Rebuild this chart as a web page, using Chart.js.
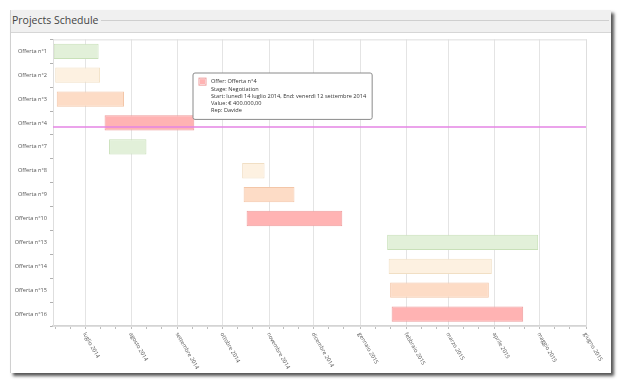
<!DOCTYPE html>
<html>
<head>
<meta charset="utf-8">
<script src="https://cdn.jsdelivr.net/npm/chart.js@4.4.1/dist/chart.umd.min.js"></script>
<style>
  body { margin: 0; background: #fff; font-family: "Open Sans", sans-serif; }
  #frame {
    position: absolute; left: 10px; top: 10px; width: 600px; height: 363px;
    background: #fff; border-left: 1px solid #d0d0d0;
    box-shadow: 3px 3px 3px #555;
  }
  #head {
    position: absolute; left: 0; top: 0; width: 600px; height: 22px;
    background: #f0f0f0; border-bottom: 1px solid #d6d6d6;
  }
  #head span {
    position: absolute; left: 1px; top: 3px; font-size: 10.5px; color: #444;
    background: #f0f0f0; padding-right: 2px;
  }
  #head i {
    position: absolute; left: 2px; right: 2px; top: 10px; border-top: 1px solid #cfcfcf;
  }
  #wrap { position: absolute; left: 0; top: 23px; width: 598px; height: 340px; }
</style>
</head>
<body>
<div id="frame">
  <div id="head"><i></i><span>Projects Schedule</span></div>
  <div id="wrap"><canvas id="chart" width="598" height="340"></canvas></div>
</div>
<script>
// offers and their start / end dates
const offers = ["Offerta n°1", "Offerta n°2", "Offerta n°3", "Offerta n°4", "Offerta n°7", "Offerta n°8",
  "Offerta n°9", "Offerta n°10", "Offerta n°13", "Offerta n°14", "Offerta n°15", "Offerta n°16"];
const starts = ["2014-06-10", "2014-06-11", "2014-06-12", "2014-07-14", "2014-07-17", "2014-10-14",
  "2014-10-15", "2014-10-17", "2015-01-19", "2015-01-20", "2015-01-21", "2015-01-22"];
const ends = ["2014-07-10", "2014-07-11", "2014-07-27", "2014-09-12", "2014-08-11", "2014-10-29",
  "2014-11-18", "2014-12-20", "2015-04-30", "2015-03-30", "2015-03-28", "2015-04-20"];

// month tick labels on the time axis
const monthTicks = ["2014-07-01", "2014-08-01", "2014-09-01", "2014-10-01", "2014-11-01", "2014-12-01",
  "2015-01-01", "2015-02-01", "2015-03-01", "2015-04-01", "2015-05-01", "2015-06-01"];
const monthLabels = ["luglio 2014", "agosto 2014", "settembre 2014", "ottobre 2014", "novembre 2014", "dicembre 2014",
  "gennaio 2015", "febbraio 2015", "marzo 2015", "aprile 2015", "maggio 2015", "giugno 2015"];

// the hovered offer shown in the tooltip
const hoverIndex = 3;
const hoverStage = "Negotiation";
const hoverValue = "€ 400.000,00";
const hoverRep = "Davide";

const fills = ["#e2f0d9", "#fdf1e1", "#fddcc6", "#ffb3b3"];
const borders = ["#c8e0b8", "#f1dfc4", "#f3c6a8", "#ee9d9d"];

const dayNames = ["domenica", "lunedì", "martedì", "mercoledì", "giovedì", "venerdì", "sabato"];
const monthNames = ["gennaio", "febbraio", "marzo", "aprile", "maggio", "giugno", "luglio",
  "agosto", "settembre", "ottobre", "novembre", "dicembre"];

const DAY = 86400000;
const toMs = (s) => Date.parse(s + "T00:00:00Z");
const fmtDate = (ms) => {
  const d = new Date(ms);
  return dayNames[d.getUTCDay()] + " " + d.getUTCDate() + " " + monthNames[d.getUTCMonth()] + " " + d.getUTCFullYear();
};

const majorMs = monthTicks.map(toMs);
const xMin = toMs("2014-06-09") + DAY / 2;
const xMax = toMs("2015-06-01");

// minor ticks every ~10 days inside each month
const allTicks = [];
majorMs.forEach((m) => {
  allTicks.push(m);
  allTicks.push(m + 10 * DAY, m + 20 * DAY);
});
[toMs("2014-06-11"), toMs("2014-06-21")].forEach((m) => allTicks.push(m));

Chart.Tooltip.positioners.fixed = function () {
  return { x: 184, y: 40 };
};

const overlay = {
  id: "overlay",
  beforeDatasetsDraw(chart) {
    const { ctx, chartArea } = chart;
    ctx.save();
    ctx.strokeStyle = "#dedede";
    ctx.lineWidth = 1;
    ctx.strokeRect(chartArea.left + 0.5, chartArea.top + 0.5, chartArea.right - chartArea.left, chartArea.bottom - chartArea.top);
    ctx.restore();
  },
  afterDatasetsDraw(chart) {
    const { ctx, chartArea } = chart;
    // crosshair sits where the mouse was, a bit below the row centre
    const y = chart.scales.y.getPixelForValue(hoverIndex) + 4;
    ctx.save();
    ctx.strokeStyle = "#e584e5";
    ctx.lineWidth = 1.5;
    ctx.beginPath();
    ctx.moveTo(chartArea.left, y);
    ctx.lineTo(chartArea.right, y);
    ctx.stroke();

    // rotated month labels, reading down to the right
    const xs = chart.scales.x;
    ctx.fillStyle = "#555";
    ctx.font = "5.6px 'Open Sans'";
    ctx.textAlign = "left";
    ctx.textBaseline = "middle";
    majorMs.forEach((m, i) => {
      ctx.save();
      ctx.translate(xs.getPixelForValue(m) - 1, chartArea.bottom + 7);
      ctx.rotate(Math.PI / 3);
      ctx.fillText(monthLabels[i], 0, 0);
      ctx.restore();
    });
    ctx.restore();
  }
};

const chart = new Chart(document.getElementById("chart"), {
  type: "bar",
  data: {
    labels: offers,
    datasets: [{
      label: "Offer",
      data: starts.map((s, i) => [toMs(s), toMs(ends[i])]),
      backgroundColor: offers.map((o, i) => fills[i % 4]),
      borderColor: offers.map((o, i) => borders[i % 4]),
      borderWidth: 1,
      borderSkipped: false,
      categoryPercentage: 1,
      barPercentage: 0.64
    }]
  },
  options: {
    indexAxis: "y",
    responsive: false,
    animation: false,
    events: [],
    layout: { padding: { top: 4, right: 23, left: 0, bottom: 0 } },
    scales: {
      x: {
        type: "linear",
        min: xMin,
        max: xMax,
        afterBuildTicks: (scale) => {
          scale.ticks = allTicks.filter((v) => v >= xMin && v <= xMax).sort((a, b) => a - b).map((v) => ({ value: v }));
        },
        afterFit: (scale) => { scale.height = 47; },
        ticks: { display: false },
        grid: {
          color: (c) => (c.tick && majorMs.includes(c.tick.value) ? "#e4e4e4" : "rgba(0,0,0,0)"),
          tickColor: "#bdbdbd",
          tickLength: 3
        },
        border: { color: "#d4d4d4", width: 1.5 }
      },
      y: {
        afterFit: (scale) => { scale.width = 42; },
        ticks: { color: "#555", font: { size: 5.6, family: "'Open Sans'" }, padding: 3 },
        grid: { drawOnChartArea: false, tickLength: 3, tickColor: "#b0b0b0" },
        border: { color: "#d4d4d4" }
      }
    },
    plugins: {
      legend: { display: false },
      tooltip: {
        position: "fixed",
        xAlign: "left",
        yAlign: "top",
        caretSize: 0,
        caretPadding: 0,
        cornerRadius: 2,
        backgroundColor: "#fff",
        borderColor: "#8a8a8a",
        borderWidth: 1,
        padding: { left: 6, right: 6, top: 5, bottom: 5 },
        bodyColor: "#333",
        bodyFont: { size: 5.6, family: "'Open Sans'", lineHeight: 1.3 },
        bodySpacing: 0,
        boxWidth: 7,
        boxHeight: 7,
        boxPadding: 3,
        callbacks: {
          title: () => "",
          label: (ctx) => {
            const i = ctx.dataIndex;
            return [
              "Offer: " + offers[i],
              "Stage: " + hoverStage,
              "Start: " + fmtDate(toMs(starts[i])) + ", End: " + fmtDate(toMs(ends[i])),
              "Value: " + hoverValue,
              "Rep: " + hoverRep
            ];
          },
          labelColor: (ctx) => ({
            backgroundColor: fills[ctx.dataIndex % 4],
            borderColor: borders[ctx.dataIndex % 4],
            borderWidth: 1
          })
        }
      }
    }
  },
  plugins: [overlay]
});

chart.tooltip.setActiveElements([{ datasetIndex: 0, index: hoverIndex }], { x: 200, y: 90 });
chart.update();
</script>
</body>
</html>
